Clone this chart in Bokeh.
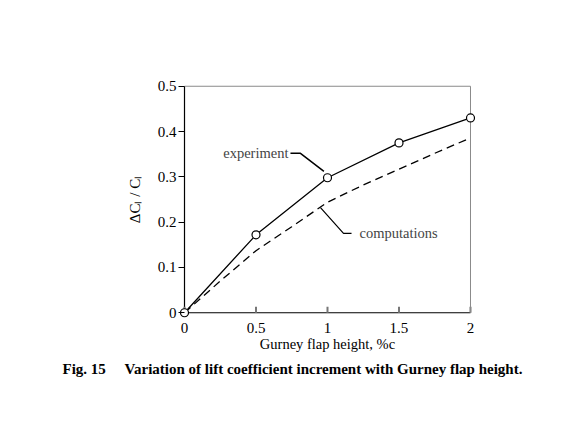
from bokeh.plotting import figure
from bokeh.models import Label, Range1d, FixedTicker, Title
from bokeh.embed import file_html
from bokeh.resources import INLINE

# data
exp_x = [0, 0.5, 1.0, 1.5, 2.0]
exp_y = [0.0, 0.172, 0.298, 0.375, 0.430]
comp_x = [0, 0.25, 0.5, 0.75, 1.0, 1.25, 1.5, 1.75, 2.0]
comp_y = [0.0, 0.070, 0.137, 0.190, 0.244, 0.282, 0.317, 0.352, 0.386]
x_ticks = [0, 0.5, 1, 1.5, 2]
x_tick_labels = {0: "0", 0.5: "0.5", 1: "1", 1.5: "1.5", 2: "2"}
y_ticks = [0, 0.1, 0.2, 0.3, 0.4, 0.5]
y_tick_labels = {0: "0", 0.1: "0.1", 0.2: "0.2", 0.3: "0.3", 0.4: "0.4", 0.5: "0.5"}

# annotation leader lines (data coords)
exp_leader_x = [0.741, 0.811, 0.975]
exp_leader_y = [0.352, 0.352, 0.312]
comp_leader_x = [0.951, 1.112, 1.168]
comp_leader_y = [0.232, 0.175, 0.175]

FONT = "Liberation Serif"
XPAD = 0.042
YPAD = 0.0127
XTICK_LEN = 0.013
NB = "\u00a0"

p = figure(width=568, height=408, output_backend="svg", toolbar_location=None,
           x_range=Range1d(-XPAD, 2 + XPAD), y_range=Range1d(-YPAD, 0.5 + YPAD),
           min_border_left=178, min_border_right=92, min_border_top=80, min_border_bottom=90)
p.outline_line_color = None
p.grid.visible = False
p.background_fill_color = "white"
p.border_fill_color = "white"

for ax in (p.xaxis[0], p.yaxis[0]):
    ax.axis_line_color = None
    ax.major_label_text_font = FONT
    ax.major_label_text_font_size = "15px"
    ax.major_label_text_color = "black"
    ax.axis_label_text_font = FONT
    ax.axis_label_text_font_size = "14.5px"
    ax.axis_label_text_font_style = "normal"
    ax.axis_label_text_color = "black"
    ax.minor_tick_line_color = None

xa = p.xaxis[0]
xa.ticker = FixedTicker(ticks=x_ticks)
xa.major_label_overrides = x_tick_labels
xa.major_tick_line_color = None
xa.major_tick_in = 0
xa.major_tick_out = 0
xa.major_label_standoff = 4
xa.axis_label = "Gurney flap height, %c"
xa.axis_label_standoff = 0

ya = p.yaxis[0]
ya.ticker = FixedTicker(ticks=y_ticks)
ya.major_label_overrides = y_tick_labels
ya.major_tick_in = 6
ya.major_tick_out = 0
ya.major_tick_line_color = "black"
ya.major_label_standoff = 2
ya.axis_label = "ΔCₗ / Cₗ"
ya.axis_label_text_font_size = "15px"
ya.axis_label_standoff = 12

# axis lines through the origin
p.line(x=[0, 2], y=[0, 0], line_color="black", line_width=1.2)
p.line(x=[0, 0], y=[0, 0.5], line_color="black", line_width=1.2)
# x ticks pointing inward
p.segment(x0=x_ticks, y0=[0] * len(x_ticks), x1=x_ticks, y1=[XTICK_LEN] * len(x_ticks),
          line_color="#777777", line_width=2)

# faint top / right frame lines
p.line(x=[0, 2], y=[0.5, 0.5], line_color="#8a8a8a", line_width=1)
p.line(x=[2, 2], y=[0, 0.5], line_color="#8a8a8a", line_width=1)

# computations (dashed)
p.line(x=comp_x, y=comp_y, line_color="black", line_width=1.3, line_dash="8 5")
# experiment
p.line(x=exp_x, y=exp_y, line_color="black", line_width=1.3)
p.scatter(x=exp_x, y=exp_y, marker="circle", size=8, fill_color="white",
          line_color="black", line_width=1.2)

# leaders
p.line(x=exp_leader_x, y=exp_leader_y, line_color="black", line_width=1.5)
p.line(x=comp_leader_x, y=comp_leader_y, line_color="black", line_width=1.2)

p.add_layout(Label(x=0.727, y=0.352, text="experiment", text_font=FONT,
                   text_font_size="14.5px", text_align="right", text_baseline="middle"))
p.add_layout(Label(x=1.224, y=0.175, text="computations", text_font=FONT,
                   text_font_size="14.5px", text_align="left", text_baseline="middle"))

caption = Title(text="Fig. 15" + NB * 5 + "Variation of lift coefficient increment with Gurney flap height.",
                text_font=FONT, text_font_size="15px", text_font_style="bold",
                align="left", offset=-116, standoff=9, text_color="black")
p.add_layout(caption, "below")

open("out.html", "w").write(file_html(p, INLINE))
